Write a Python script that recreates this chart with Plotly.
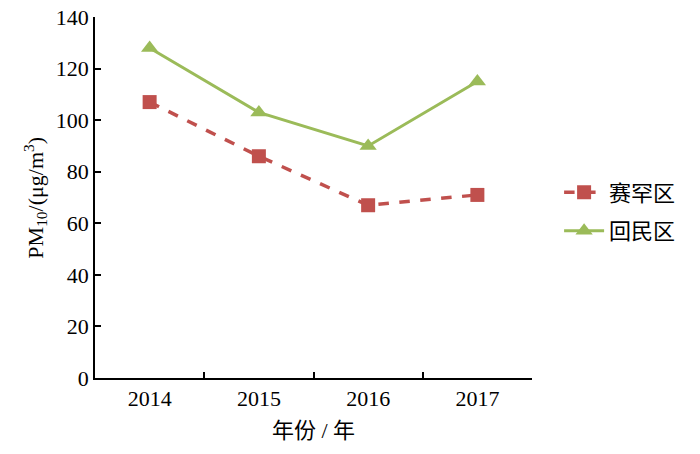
import plotly.graph_objects as go

years = ["2014", "2015", "2016", "2017"]
saihan = [107, 86, 67, 71]
huimin = [128, 103, 90, 115]
y_ticks = [0, 20, 40, 60, 80, 100, 120, 140]

FONT = "Liberation Serif, Times New Roman, Noto Sans CJK SC, serif"

fig = go.Figure()
fig.add_trace(go.Scatter(
    x=years, y=saihan, name="赛罕区", mode="lines+markers", legendgroup="a",
    line=dict(color="#C0504D", width=3.5, dash="dash"),
    marker=dict(symbol="square", size=14, color="#C0504D"),
))
fig.add_trace(go.Scatter(
    x=years, y=huimin, name="回民区", mode="lines+markers", legendgroup="b",
    line=dict(color="#9BBB59", width=3),
    marker=dict(symbol="triangle-up", size=15, color="#9BBB59"),
))

fig.update_layout(
    width=700, height=454,
    margin=dict(l=95, r=168, t=17, b=76),
    paper_bgcolor="white", plot_bgcolor="white",
    font=dict(family=FONT, size=22, color="black"),
    showlegend=True,
    legend=dict(x=1.062, y=0.46, xanchor="left", yanchor="middle",
                font=dict(size=22), itemwidth=40, traceorder="grouped",
                tracegroupgap=7),
    xaxis=dict(
        type="category", range=[-0.5, 3.5], tickson="boundaries",
        ticks="inside", ticklen=6, tickcolor="black", tickwidth=1.5,
        showline=True, linecolor="black", linewidth=1.5,
        showgrid=False, zeroline=False, automargin=False,
        ticklabeloverflow="allow",
    ),
    yaxis=dict(
        range=[0, 140], tickvals=y_ticks,
        ticks="inside", ticklen=6, tickcolor="black", tickwidth=1.5,
        showline=True, linecolor="black", linewidth=1.5,
        showgrid=False, zeroline=False, automargin=False,
        ticklabeloverflow="allow",
    ),
    annotations=[
        dict(text="年份 / 年", xref="paper", yref="paper", x=0.5, y=-0.145,
             xanchor="center", yanchor="middle", showarrow=False,
             font=dict(size=22)),
        dict(text="PM<sub>10</sub>/(μg/m<sup>3</sup>)", xref="paper", yref="paper",
             x=-0.137, y=0.5, xanchor="center", yanchor="middle", textangle=-90,
             showarrow=False, font=dict(size=22)),
    ],
)

fig.write_html("out.html",
               config={"displayModeBar": False},
               post_script="document.body.style.margin='0';document.body.style.overflow='hidden';")
